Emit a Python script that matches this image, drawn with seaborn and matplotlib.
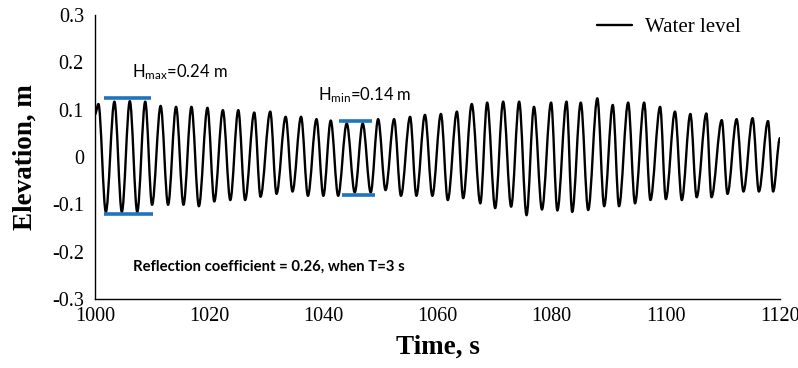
import numpy as np
import pandas as pd
import matplotlib
matplotlib.use("Agg")
import matplotlib.pyplot as plt
from matplotlib.path import Path
from matplotlib.patches import PathPatch
import seaborn as sns

# ---- data (extrema of the water-level record) ----
time_s = [1000.0, 1000.6, 1001.9, 1003.4, 1004.7, 1006.1, 1007.4, 1008.8, 1010.0, 1011.5,
          1012.8, 1014.2, 1015.5, 1016.9, 1018.2, 1019.7, 1020.9, 1022.4, 1023.7, 1025.1,
          1026.3, 1027.9, 1029.0, 1030.7, 1031.8, 1033.4, 1034.6, 1036.1, 1037.3, 1038.8,
          1040.0, 1041.3, 1042.6, 1044.1, 1045.5, 1046.9, 1048.3, 1049.6, 1050.9, 1052.4,
          1053.6, 1055.2, 1056.3, 1057.8, 1059.1, 1060.6, 1061.8, 1063.4, 1064.5, 1066.0,
          1067.5, 1068.7, 1070.1, 1071.5, 1072.9, 1074.3, 1075.6, 1076.9, 1078.3, 1079.9,
          1081.0, 1082.6, 1083.6, 1085.1, 1086.4, 1088.0, 1089.2, 1090.7, 1091.8, 1093.4,
          1094.6, 1096.2, 1097.3, 1099.0, 1100.0, 1101.6, 1102.8, 1104.3, 1105.4, 1107.1,
          1108.0, 1109.8, 1110.8, 1112.4, 1113.6, 1115.2, 1116.3, 1117.9, 1118.8, 1120.0]
water_level = [0.090, 0.112, -0.116, 0.117, -0.116, 0.118, -0.116, 0.117, -0.101, 0.108,
               -0.101, 0.106, -0.101, 0.106, -0.104, 0.104, -0.094, 0.099, -0.091, 0.099,
               -0.091, 0.094, -0.084, 0.096, -0.078, 0.085, -0.073, 0.085, -0.082, 0.080,
               -0.082, 0.077, -0.082, 0.071, -0.075, 0.071, -0.075, 0.080, -0.070, 0.080,
               -0.082, 0.085, -0.082, 0.089, -0.082, 0.091, -0.091, 0.096, -0.087, 0.112,
               -0.098, 0.115, -0.108, 0.117, -0.105, 0.117, -0.123, 0.106, -0.111, 0.115,
               -0.113, 0.117, -0.116, 0.115, -0.112, 0.124, -0.104, 0.110, -0.104, 0.115,
               -0.098, 0.115, -0.091, 0.106, -0.089, 0.096, -0.091, 0.091, -0.085, 0.092,
               -0.085, 0.078, -0.078, 0.080, -0.073, 0.082, -0.073, 0.076, -0.073, 0.040]

# blue marker lines (H max / H min)
hmax_levels = [0.124, -0.121]
hmax_start = [1001.5, 1001.5]
hmax_end = [1009.8, 1010.2]
hmin_levels = [0.077, -0.080]
hmin_start = [1042.7, 1043.2]
hmin_end = [1048.6, 1049.1]

x_ticks = [1000, 1020, 1040, 1060, 1080, 1100, 1120]
y_ticks = [-0.3, -0.2, -0.1, 0.0, 0.1, 0.2, 0.3]
y_ticklabels = ["-0.3", "-0.2", "-0.1", "0", "0.1", "0.2", "0.3"]

df = pd.DataFrame({"Time": time_s, "Water level": water_level})

sns.set_theme(style="white")
plt.rcParams["font.family"] = ["Liberation Serif", "DejaVu Serif"]
plt.rcParams["mathtext.default"] = "regular"
plt.rcParams["text.color"] = "black"
plt.rcParams["axes.labelcolor"] = "black"
plt.rcParams["xtick.color"] = "black"
plt.rcParams["ytick.color"] = "black"

fig = plt.figure(figsize=(7.98, 3.68), dpi=100)
ax = fig.add_axes([95 / 798, 1 - 299 / 368, (780 - 95) / 798, (299 - 15) / 368])

# seaborn sets up the scales and the legend entry; the trace itself is drawn
# as a smoothed line (like a spreadsheet "smoothed line") through the same points
sns.lineplot(data=df, x="Time", y="Water level", ax=ax, color="black", linewidth=0,
             sort=False, estimator=None, label="Water level")

LW = 1.7
k = 0.34
verts = [(time_s[0], water_level[0])]
codes = [Path.MOVETO]
for i in range(len(time_s) - 1):
    t0, y0 = time_s[i], water_level[i]
    t1, y1 = time_s[i + 1], water_level[i + 1]
    dt = t1 - t0
    verts += [(t0 + k * dt, y0), (t1 - k * dt, y1), (t1, y1)]
    codes += [Path.CURVE4, Path.CURVE4, Path.CURVE4]
ax.add_patch(PathPatch(Path(verts, codes), facecolor="none", edgecolor="black",
                       linewidth=LW, joinstyle="round", capstyle="round", zorder=2))

blue = "#1f74bd"
ax.hlines(hmax_levels, hmax_start, hmax_end, colors=blue, linewidth=2.6, zorder=3)
ax.hlines(hmin_levels, hmin_start, hmin_end, colors=blue, linewidth=2.6, zorder=3)

ax.set_xlim(1000, 1120)
ax.set_ylim(-0.3, 0.3)
ax.set_xticks(x_ticks)
ax.set_xticklabels([str(v) for v in x_ticks])
ax.set_yticks(y_ticks)
ax.set_yticklabels(y_ticklabels)
ax.tick_params(axis="both", which="major", labelsize=14.5, length=5, width=1,
               direction="out", color="black", labelcolor="black", pad=3)
ax.tick_params(axis="x", pad=1)
for s in ["top", "right"]:
    ax.spines[s].set_visible(False)
for s in ["left", "bottom"]:
    ax.spines[s].set_color("black")
    ax.spines[s].set_linewidth(1.0)

ax.set_xlabel("Time, s", fontsize=19.5, fontweight="bold", labelpad=6, color="black")
ax.set_ylabel("Elevation, m", fontsize=19.5, fontweight="bold", labelpad=10, color="black")

sans = ["Lato", "DejaVu Sans"]
ax.text(1006.5, 0.169, r"H$_{max}$=0.24 m", fontsize=12, family=sans, va="baseline",
        ha="left", color="black")
ax.text(1039.1, 0.1205, r"H$_{min}$=0.14 m", fontsize=12, family=sans, va="baseline",
        ha="left", color="black")
ax.text(1006.7, -0.241, "Reflection coefficient = 0.26, when T=3 s", fontsize=10.7,
        family=sans, fontweight="bold", va="baseline", ha="left", color="black")

leg = ax.legend(loc="center left", bbox_to_anchor=(597 / 798, 1 - 27 / 368),
                bbox_transform=fig.transFigure, frameon=False, fontsize=15,
                handlelength=1.67, handletextpad=0.62, borderpad=0, borderaxespad=0,
                labelcolor="black")
for h in leg.get_lines():
    h.set_linewidth(LW)

fig.savefig("out.png", dpi=100)
